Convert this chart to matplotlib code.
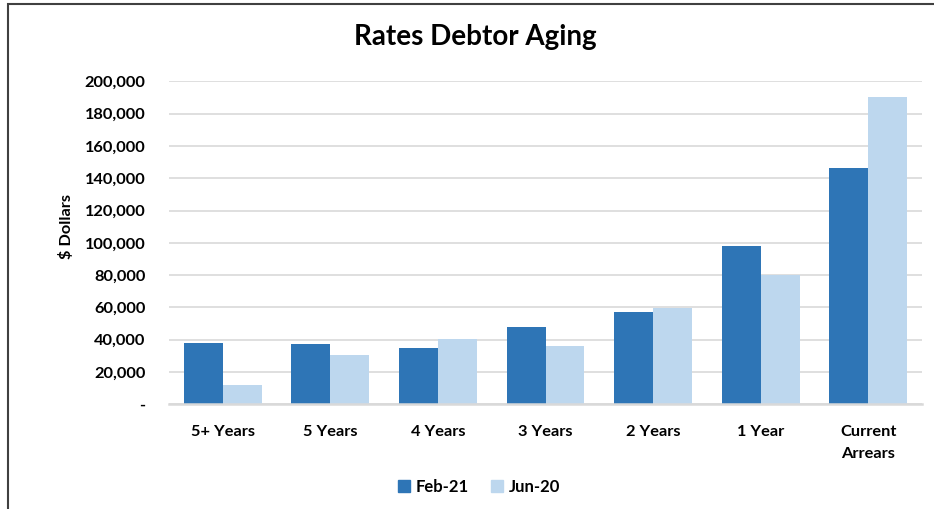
import matplotlib
matplotlib.use("Agg")
import matplotlib.pyplot as plt
import numpy as np
from matplotlib.patches import Rectangle, Patch
from matplotlib.ticker import FuncFormatter

# data
categories = ['5+ Years', '5 Years', '4 Years', '3 Years', '2 Years', '1 Year', 'Current\nArrears']
feb21 = [37800, 37100, 34700, 47800, 57100, 98000, 146500]
jun20 = [11800, 30500, 40200, 36100, 59900, 80000, 190000]
series_names = ['Feb-21', 'Jun-20']
y_ticks = [0, 20000, 40000, 60000, 80000, 100000, 120000, 140000, 160000, 180000, 200000]

dark_blue = '#2E75B6'
light_blue = '#BDD7EE'

plt.rcParams['font.family'] = ['Lato', 'DejaVu Sans']
plt.rcParams['font.weight'] = 'bold'

fig = plt.figure(figsize=(9.34, 5.09), dpi=100)
ax = fig.add_axes([169 / 934, 1 - 404.3 / 509, (922 - 169) / 934, (404.3 - 81.3) / 509])

x = np.arange(len(categories))
w = 0.3625
ax.bar(x - w / 2, feb21, width=w, color=dark_blue, label=series_names[0], zorder=3)
ax.bar(x + w / 2, jun20, width=w, color=light_blue, label=series_names[1], zorder=3)

ax.set_xlim(-0.5, len(categories) - 0.5)
ax.set_ylim(0, 200000)
ax.set_yticks(y_ticks)
ax.yaxis.set_major_formatter(FuncFormatter(lambda v, p: '-' if v == 0 else f'{int(v):,}'))
ax.grid(axis='y', color='#D9D9D9', linewidth=1.2, zorder=0)
ax.set_axisbelow(True)

for s in ['top', 'right', 'left']:
    ax.spines[s].set_visible(False)
ax.spines['bottom'].set_color('#D9D9D9')
ax.spines['bottom'].set_linewidth(1.8)
ax.spines['bottom'].set_zorder(4)

ax.tick_params(axis='y', length=0, pad=17, labelsize=11.8)
ax.tick_params(axis='x', length=0, pad=15, labelsize=11.8)
ax.set_xticks(x)
ax.set_xticklabels(categories, fontweight='bold', linespacing=1.75, va='top')
for lbl in ax.get_yticklabels():
    lbl.set_fontweight('bold')

ax.set_ylabel('$ Dollars', fontsize=11.8, fontweight='bold')
ax.yaxis.set_label_coords(-95 / 753, 0.55)

fig.text(475 / 934, 1 - 37 / 509, 'Rates Debtor Aging', ha='center', va='center',
         fontsize=20, fontweight='bold')

handles = [Patch(color=dark_blue, label=series_names[0]),
           Patch(color=light_blue, label=series_names[1])]
fig.legend(handles=handles, loc='center', bbox_to_anchor=(479 / 934, 1 - 487 / 509),
           ncol=2, frameon=False, handlelength=0.75, handleheight=0.75,
           handletextpad=0.35, columnspacing=1.3, prop={'weight': 'bold', 'size': 12})

# chart frame (cropped on the right and bottom in the reference)
fig.patches.append(Rectangle((8 / 934, -0.05), 1.1, 1.05 - 4 / 509,
                             transform=fig.transFigure, fill=False,
                             edgecolor='#404040', linewidth=1.5))

fig.savefig('out.png', dpi=100)
